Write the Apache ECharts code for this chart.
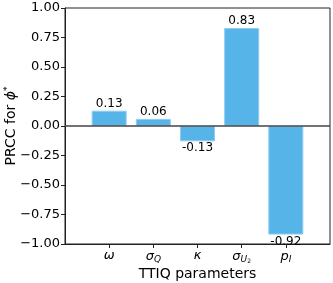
<!DOCTYPE html>
<html><head><meta charset="utf-8">
<script src="https://cdn.jsdelivr.net/npm/echarts@6/dist/echarts.min.js"></script>
<style>html,body{margin:0;padding:0;background:#fff}#c{width:333px;height:283px}</style>
</head><body><div id="c"></div>
<script>
var categories = ['omega', 'sigma_Q', 'kappa', 'sigma_U2', 'p_I'];
var values = [0.13, 0.06, -0.13, 0.83, -0.92];
var tickLabels = ['{i|ω}', '{i|σ}{sub|Q}', '{i|κ}', '{i|σ}{sub|U}{subsub|2}', '{i|p}{sub|I}'];

var positions = categories.map(function (c, i) { return i; });
var FONT = 'DejaVu Sans';
var chart = echarts.init(document.getElementById('c'), null, {renderer: 'canvas'});
chart.setOption({
  animation: false,
  grid: {left: 65, right: 3, top: 8, bottom: 39, containLabel: false, outerBoundsMode: 'none',
    show: true, borderColor: '#222', borderWidth: 1, backgroundColor: 'transparent'},
  xAxis: {
    type: 'value', min: -1, max: 5, interval: 1,
    axisLine: {onZero: false, lineStyle: {color: '#222'}},
    axisTick: {show: true, customValues: positions, length: 4, lineStyle: {color: '#222'}},
    axisLabel: {
      customValues: positions, margin: 5,
      formatter: function (v) { var i = Math.round(v); return tickLabels[i] || ''; },
      rich: {
        i: {fontFamily: FONT, fontStyle: 'italic', fontSize: 13, color: '#000'},
        sub: {fontFamily: FONT, fontStyle: 'italic', fontSize: 9, color: '#000', verticalAlign: 'bottom', padding: [6, 0, 0, 0]},
        subsub: {fontFamily: FONT, fontSize: 6, color: '#000', verticalAlign: 'bottom', padding: [9, 0, 0, 0]}
      }
    },
    splitLine: {show: false},
    name: 'TTIQ parameters', nameLocation: 'middle', nameGap: 23, nameMoveOverlap: false,
    nameTextStyle: {fontFamily: FONT, fontSize: 14, color: '#000'}
  },
  yAxis: {
    type: 'value', min: -1, max: 1, interval: 0.25,
    axisLine: {show: true, onZero: false, lineStyle: {color: '#222'}},
    axisTick: {show: true, length: 4, lineStyle: {color: '#222'}},
    axisLabel: {
      fontFamily: FONT, fontSize: 13, color: '#000', margin: 5,
      formatter: function (v) { return v.toFixed(2).replace('-', '\u2212'); }
    },
    splitLine: {show: false},
    name: 'PRCC for {i|ϕ}{sup|*}', nameLocation: 'middle', nameGap: 45, nameMoveOverlap: false,
    nameTextStyle: {fontFamily: FONT, fontSize: 14, color: '#000',
      rich: {
        i: {fontFamily: FONT, fontStyle: 'italic', fontSize: 14, color: '#000'},
        sup: {fontFamily: FONT, fontSize: 9, color: '#000', verticalAlign: 'top', padding: [0, 0, 8, 0]}
      }
    }
  },
  series: [{
    type: 'bar',
    barWidth: 35,
    data: values.map(function (v, i) {
      return {value: [positions[i], v], label: {position: v >= 0 ? 'top' : 'bottom'}};
    }),
    itemStyle: {color: '#56B4E9', borderColor: '#8fcdf0', borderWidth: 1},
    label: {
      show: true, distance: 1, fontFamily: FONT, fontSize: 12, color: '#000',
      formatter: function (p) { return p.value[1].toFixed(2); }
    },
    markLine: {
      silent: true, symbol: 'none', label: {show: false},
      lineStyle: {color: '#444', width: 1.5, type: 'solid'},
      data: [{yAxis: 0}]
    }
  }]
});
</script></body></html>
